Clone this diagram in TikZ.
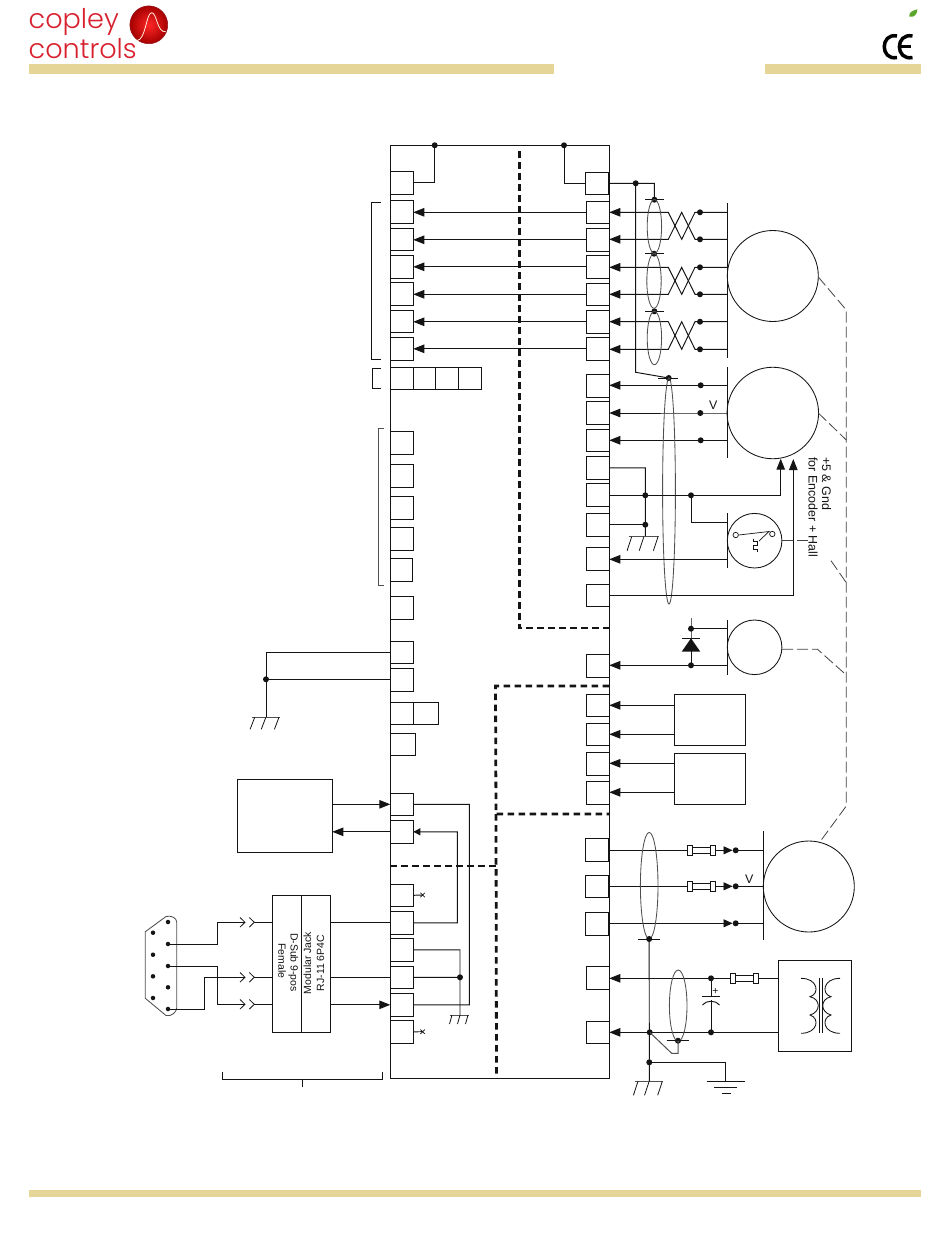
\documentclass[tikz,border=0pt]{standalone}
\usepackage{fontspec}
\setmainfont{Liberation Sans}
\newfontfamily\logofont[UprightFont=* Light]{Poppins}
\usetikzlibrary{arrows.meta,calc}
\definecolor{ink}{HTML}{141414}
\definecolor{band}{HTML}{E5D596}
\definecolor{logored}{HTML}{D8202E}
\definecolor{shield}{HTML}{505050}
\definecolor{leaf}{HTML}{5BA62A}
\tikzset{
  wire/.style={draw=ink,line width=0.97bp},
  arr/.style={wire,-{Triangle[length=11bp,width=8.5bp]}},
  sarr/.style={wire,-{Triangle[length=7bp,width=7bp]}},
  boxp/.style={draw=ink,line width=0.97bp,inner sep=0pt,outer sep=0pt,anchor=north west},
  dot/.style={circle,fill=ink,inner sep=0pt,outer sep=0pt,minimum size=6bp},
  sdot/.style={circle,fill=ink,inner sep=0pt,outer sep=0pt,minimum size=4.5bp},
  ring/.style={circle,draw=ink,line width=0.85bp,inner sep=0pt,outer sep=0pt},
  shld/.style={draw=shield,line width=0.85bp},
  heavy/.style={draw=ink,line width=2.8bp,dash pattern=on 6.5bp off 4.5bp},
  fine/.style={draw=ink!80,line width=0.8bp,dash pattern=on 11bp off 4bp},
  lab/.style={inner sep=0pt,text=ink,font=\fontsize{10.5}{12}\selectfont},
  ulab/.style={inner sep=0pt,text=ink,font=\fontsize{12.5}{14}\selectfont}
}
\newcommand{\pinbox}[5]{\node[boxp,minimum width=#4 bp,minimum height=#5 bp] (#1) at (#2,#3) {};}
\newcommand{\chassis}[4]{% x0, x1, y, drop
  \draw[shld] (#1,#3) -- (#2,#3);
  \draw[wire,line width=0.8bp] (#1+3,#3) -- ++(-4.6,#4) ($(#1,#3)!0.5!(#2,#3)+(0,0)$) -- ++(-4.6,#4) (#2-1,#3) -- ++(-4.6,#4);}
\newcommand{\fuse}[2]{% cx, cy
  \draw[wire,fill=white] (#1-9,#2-3.2) rectangle (#1+9,#2+3.2);
  \draw[wire,fill=white] (#1-14,#2-5) rectangle (#1-9,#2+5);
  \draw[wire,fill=white] (#1+9,#2-5) rectangle (#1+14,#2+5);}
\newcommand{\twistpair}[7]{% yA yB dotA dotB pinA pinB (unused)
  \node[dot] (#3) at (700,#1) {};
  \node[dot] (#4) at (700,#2) {};
  \draw[arr] (727.3,#1) -- (#3.center) -- (695,#1) -- (681.7,#2) -- (668.3,#1) -- (#5.east |- #3);
  \draw[arr] (727.3,#2) -- (#4.center) -- (695,#2) -- (681.7,#1) -- (668.3,#2) -- (#6.east |- #4);}
\newcommand{\ncmark}[2]{\draw[wire,line width=0.7bp] (#1-2.2,#2-2.2) -- (#1+2.2,#2+2.2) (#1-2.2,#2+2.2) -- (#1+2.2,#2-2.2);}
\begin{document}
\begin{tikzpicture}[x=1bp,y=-1bp]
\useasboundingbox (0,0) rectangle (950,1248);
\fill[white] (0,0) rectangle (950,1248);

% header / footer bands
\fill[band] (29,64) rectangle (554,74);
\fill[band] (765,64) rectangle (921,74);
\fill[band] (29,1190) rectangle (921,1197);

% logo
\node[inner sep=0pt,anchor=base west,text=logored,font=\logofont\fontsize{27.2}{30}\selectfont] (logoa) at (28.5,28.3) {copley};
\node[inner sep=0pt,anchor=base west,text=logored,font=\logofont\fontsize{27.2}{30}\selectfont] (logob) at (28.5,58.3) {controls};
\shade[inner color=red!85!white,outer color=red!65!black] (148.8,24.8) circle[radius=18.9bp];
\draw[draw=logored!70!black,line width=0.6bp] (148.8,24.8) circle[radius=18.9bp];
\draw[draw=white!85!orange,line width=0.8bp] (136.7,40.7) .. controls (146,40) and (146,13) .. (151.7,12.7) .. controls (157,13) and (157,33) .. (165.7,31.7);

% CE + leaf
\draw[draw=black,line width=3.5bp] (897,36) .. controls (880,32.5) and (880,61) .. (897,57.5);
\draw[draw=black,line width=3.5bp] (912.5,36) .. controls (895,32.5) and (895,61) .. (912.5,57.5);
\draw[draw=black,line width=2.8bp] (900,46.8) -- (911,46.8);
\fill[leaf] (909.3,16.7) .. controls (908.5,12) and (913,10.5) .. (917.3,9.3) .. controls (917.5,13) and (915,18) .. (909.3,16.7);

% main frame
\node[boxp,minimum width=219bp,minimum height=933bp] (frame) at (390.3,145.3) {};

% left pins
\foreach \n/\y/\h in {0/171.3/23,1/200.3/23,2/228.3/22,3/255.3/23,4/282.3/23,5/310.3/22,6/337.3/23,
  8/431.3/23,9/464.3/23,10/496.3/23,11/527.3/23,13/596.3/23,
  14/641.3/22,15/668.3/23,18/793.3/22,19/820.3/23,
  20/884.3/22,21/911.3/23,22/938.3/23,23/966.3/22,24/993.3/23,25/1020.3/23}
  {\pinbox{L\n}{390.3}{\y}{23}{\h}}
\pinbox{L12}{390.3}{558.3}{22}{23}
\pinbox{La}{390.3}{367.3}{23}{22}
\pinbox{Lb}{413.3}{367.3}{22}{22}
\pinbox{Lc}{435.3}{367.3}{23}{22}
\pinbox{Ld}{458.3}{367.3}{23}{22}
\pinbox{Le}{390.3}{702.3}{23}{22}
\pinbox{Lf}{413.3}{702.3}{25}{22}
\pinbox{Lg}{390.3}{733.3}{25}{22}

% right pins
\pinbox{R0}{585.3}{172.3}{23}{22}
\foreach \n/\y/\h in {1/201.3/22,2/228.3/23,3/255.3/23,4/283.3/22,5/310.3/23,6/337.3/23,
  7/374.3/23,8/401.3/23,9/429.3/22,10/456.3/23,11/483.3/23,12/513.3/23,13/547.3/23,14/584.3/22,
  15/654.3/23,16/694.3/22,17/723.3/22,18/752.3/23,19/781.3/23,23/966.3/23,24/1021.3/22}
  {\pinbox{R\n}{586.3}{\y}{23}{\h}}
\pinbox{R20}{585.3}{838.3}{23}{23}
\pinbox{R21}{585.3}{875.3}{23}{22}
\pinbox{R22}{585.3}{912.3}{23}{23}

% heavy dashed partitions
\draw[heavy] (519.4,151) -- (519.4,628) -- (609,628);
\draw[heavy] (609,686) -- (495.5,686) -- (496,814) -- (609,814);
\draw[heavy] (496,814) -- (496.5,1078);
\draw[heavy] (390.3,866) -- (496.2,866);

% top tie-ins
\node[dot] (topL) at (434.7,145.3) {};
\node[dot] (topR) at (564,145.3) {};
\draw[wire] (L0.east) -| (topL.center);
\draw[wire] (R0.west) -| (topR.center);

% through arrows
\foreach \n in {1,...,6}{\draw[arr] (R\n.west) -- (L\n.east |- R\n.west);}

% brackets
\draw[wire] (380.7,202) -- (371.3,202) -- (371.3,359.3) -- (380.7,359.3);
\draw[wire] (380.7,368.3) -- (372.3,368.3) -- (372.3,388.3) -- (380.7,388.3);
\draw[shld] (384,428) -- (378.7,428) -- (378.7,585) -- (384,585);
\draw[wire] (222.3,1072.3) -- (222.3,1079) -- (382.3,1079) -- (382.3,1072.3);
\draw[wire] (302.3,1079) -- (302.3,1086.7);

% motor 1, shield and twisted pairs
\node[ring,minimum size=91bp] (motorA) at (772.8,276) {};
\node[ring,minimum size=91.5bp] (motorB) at (772.8,413) {};
\node[ring,minimum size=54.6bp] (switchC) at (754.6,540.7) {};
\node[ring,minimum size=54.6bp] (thermD) at (754.6,647.3) {};
\node[ring,minimum size=91bp] (motorE) at (808.8,886.5) {};
\draw[wire] (727.3,203) -- (727.3,358);
\draw[wire] (727.3,367) -- (727.3,458);
\draw[wire] (727.3,513) -- (727.3,568);
\draw[wire] (727.3,620) -- (727.3,675);
\draw[wire] (763.3,831) -- (763.3,940);

\node[dot] (tapA) at (635.7,183.3) {};
\node[dot] (shA) at (654.4,199.7) {};
\node[dot] (shB) at (654,253.7) {};
\node[dot] (shC) at (654.4,311.3) {};
\draw[wire] (R0.east) -- (tapA.center) -- (654.4,183.3) -- (shA.center);
\draw[wire] (645,199.7) -- (664,199.7);
\draw[wire] (645,253.7) -- (664,253.7);
\draw[wire] (645,311.3) -- (664,311.3);
\twistpair{212.3}{239.3}{da}{db}{R1}{R2}{}
\twistpair{267.3}{294.3}{dc}{dd}{R3}{R4}{}
\twistpair{321.7}{349.3}{de}{df}{R5}{R6}{}
\draw[shld] (654.4,226.5) ellipse[x radius=7.2,y radius=27];
\draw[shld] (654,281) ellipse[x radius=7.2,y radius=27.3];
\draw[shld] (654.4,338) ellipse[x radius=7.2,y radius=26.7];

% motor 2 wires
\node[dot] (shD) at (668.7,378) {};
\draw[wire] (tapA.center) -- (635.7,372.3) -- (shD.center);
\draw[wire] (658,378) -- (678,378);
\node[dot] (dg) at (700.7,385.3) {};
\node[dot] (dh) at (700.3,413) {};
\node[dot] (di) at (700.7,440.3) {};
\draw[arr] (727.3,385.3) -- (dg.center) -- (R7.east |- dg);
\draw[arr] (727.3,413) -- (dh.center) -- (R8.east |- dh);
\draw[arr] (727.3,440.3) -- (di.center) -- (R9.east |- di);
\node[ulab] (vA) at (713.3,405.5) {V};
\draw[shld] (669,491) ellipse[x radius=6.4,y radius=113];

% encoder power, ground, switch
\node[dot] (gA) at (645.3,495.3) {};
\node[dot] (gB) at (645.3,524.7) {};
\node[dot] (gC) at (691,495.3) {};
\coordinate (gndA) at (645.3,536.7);
\draw[wire] (R10.east) -- (645.3,467.8) -- (gndA);
\draw[wire] (R12.east |- gB) -- (gB.center);
\draw[wire,-{Triangle[length=11bp,width=8.5bp]}] (R11.east |- gA) -- (gC.center) -- (780.7,495.3) -- (780.7,458.7);
\draw[wire] (gC.center) -- (691,522.3) -- (727.3,522.3);
\draw[arr] (727.3,559.3) -- (R13.east |- 0,559.3);
\draw[wire,-{Triangle[length=11bp,width=8.5bp]}] (R14.east |- 0,595.3) -- (793.3,595.3) -- (793.3,459);
\chassis{628.7}{659}{536.7}{14}

% switch symbol
\node[circle,draw=ink,line width=0.7bp,minimum size=5.4bp,inner sep=0pt] (swa) at (735.7,535) {};
\node[circle,draw=ink,line width=0.7bp,minimum size=5.4bp,inner sep=0pt] (swb) at (772.3,534) {};
\draw[wire,line width=0.7bp] (swa.east) -- (769,531.5) -- (759,541);
\draw[wire,line width=0.7bp] (753.3,538.5) -- (753.3,541.5) -- (757,541.5) -- (757,545) -- (753,545) -- (753,549) -- (757,549) -- (757,552);

% diode branch
\node[dot] (dj) at (691,628.7) {};
\node[dot] (dk) at (691,665.3) {};
\draw[wire] (691,618.3) -- (dj.center) -- (dk.center);
\draw[wire] (dj.center) -- (727.3,628.7);
\draw[arr] (727.3,665.3) -- (dk.center) -- (R15.east |- dk);
\fill[ink] (691,638.3) -- (700.3,651.7) -- (681.7,651.7) -- cycle;
\draw[wire] (681.7,638.3) -- (700.3,638.3);

% two driver boxes
\node[boxp,minimum width=71bp,minimum height=51bp] (boxA) at (674.3,694.3) {};
\node[boxp,minimum width=71bp,minimum height=51bp] (boxB) at (674.3,753.3) {};
\draw[arr] (boxA.west |- 0,705.3) -- (R16.east |- 0,705.3);
\draw[arr] (boxA.west |- 0,734.3) -- (R17.east |- 0,734.3);
\draw[arr] (boxB.west |- 0,763.3) -- (R18.east |- 0,763.3);
\draw[arr] (boxB.west |- 0,792.3) -- (R19.east |- 0,792.3);

% motor 3
\foreach \nm/\p/\y in {a/R20/850.3,b/R21/886.3,c/R22/923.3}{
  \node[dot] (m\nm) at (735.7,\y) {};
  \draw[wire,-{Triangle[length=9bp,width=8bp]}] (\p.east |- m\nm) -- (732.5,\y);
  \draw[wire] (m\nm.center) -- (763.3,\y);
}
\fuse{701}{850.3}
\fuse{701}{886.3}
\node[ulab] (vB) at (749.3,879) {V};
\draw[shld] (649.2,885.7) ellipse[x radius=8.8,y radius=53.3];
\node[dot] (shE) at (649.2,939) {};
\draw[wire] (638.3,939) -- (660,939);

% power section
\node[boxp,minimum width=73.4bp,minimum height=91bp] (xfmr) at (778.3,960.3) {};
\node[dot] (pa) at (711,978.3) {};
\node[dot] (pb) at (711,1032.3) {};
\node[dot] (pc) at (649.7,1032.3) {};
\node[dot] (pd) at (649.3,1062.3) {};
\node[dot] (shF) at (678,1040.7) {};
\draw[arr] (xfmr.west |- pa) -- (pa.center) -- (R23.east |- pa);
\draw[arr] (xfmr.west |- pb) -- (pb.center) -- (pc.center) -- (R24.east |- pc);
\fuse{744.5}{978.3}
\draw[wire] (pa.center) -- (711,996) (711,1000) -- (pb.center);
\draw[wire] (701.7,996) -- (720,996);
\draw[wire] (702.5,1005) .. controls (706,1000) and (716,1000) .. (719.5,1005);
\node[lab] (capplus) at (715.3,991.7) {+};
\draw[shld] (678.2,1005.7) ellipse[x radius=8.8,y radius=35.7];
\draw[wire] (666.7,1040.7) -- (689.3,1040.7);
\draw[shld,line width=1bp] (pc.center) -- (671.7,1053.3) -- (678,1053.3) -- (shF.center);
\draw[wire] (shE.center) -- (649.3,1081.3);
\draw[wire] (pd.center) -- (725.3,1062.3) -- (725.3,1081.3);
\draw[wire] (706.7,1081.3) -- (744.7,1081.3);
\draw[wire] (714,1087.3) -- (736.7,1087.3);
\draw[wire] (721.7,1093.3) -- (731,1093.3);
\chassis{635}{663.3}{1081.3}{14}

% transformer symbol
\draw[wire,line width=0.85bp] (801,978.3) .. controls (818,978.3) and (820,994) .. (810,996.7) .. controls (821,999) and (821,1012) .. (810,1015) .. controls (820,1018) and (818,1033.3) .. (801,1033.3);
\draw[wire,line width=0.85bp] (840,978.3) .. controls (823,978.3) and (821,994) .. (831,996.7) .. controls (820,999) and (820,1012) .. (831,1015) .. controls (821,1018) and (823,1033.3) .. (840,1033.3);
\draw[wire] (819,978.3) -- (819,1033.3);
\draw[wire] (822.3,978.3) -- (822.3,1033.3);

% thin dashed bundle on the right
\draw[fine] (818.3,277) -- (846.3,310) -- (846.3,806) -- (819.3,842.7);
\draw[fine] (818.3,413) -- (846.3,440);
\draw[fine] (782,540.7) -- (808,540.7);
\draw[fine] (831,560.7) -- (846.3,582.7);
\draw[fine] (782,649.3) -- (817.5,649.3) -- (846.3,675);

% rotated text
\node[ulab,rotate=-90,anchor=west] (pwrA) at (826.5,457) {+5 \& Gnd};
\node[ulab,rotate=-90,anchor=west] (pwrB) at (813,457) {for Encoder + Hall};

% ground + left side
\node[dot] (ga) at (266,679.3) {};
\draw[wire] (L14.west) -| (266,717.3);
\draw[wire] (L15.west |- ga) -- (ga.center);
\chassis{251.7}{280}{717.3}{12}

% control box
\node[boxp,minimum width=95bp,minimum height=73bp] (ctrl) at (237.3,779.3) {};
\draw[arr] (ctrl.east |- L18.west) -- (L18.west);
\draw[arr] (L19.west) -- (ctrl.east |- L19.west);
\draw[wire] (L18.east) -- (469.3,804.3) -- (469.3,1004.8) -- (L24.east);
\draw[sarr] (L21.east) -- (457.3,922.8) -- (457.3,831.8) -- (L19.east);

% NC stubs
\coordinate (nca) at (422.6,895);
\coordinate (ncb) at (422.6,1031.7);
\ncmark{422.6}{895}
\ncmark{422.6}{1031.7}
\draw[wire] (L20.east) -- (nca);
\draw[wire] (L25.east) -- (ncb);

% signal ground block
\node[dot] (sg) at (460,977.3) {};
\draw[wire] (L22.east) -- (460,949.8) -- (460,1015);
\draw[wire] (L23.east) -- (sg.center);
\draw[shld] (450,1015) -- (468.7,1015);
\draw[wire,line width=0.8bp] (452,1015) -- ++(-2.5,9) (460,1015) -- ++(-2.5,9) (468,1015) -- ++(-2.5,9);

% modular jack block
\node[boxp,minimum width=58bp,minimum height=137bp] (jack) at (272.7,895.3) {};
\draw[wire] (301.7,895.3) -- (301.7,1032.3);
\node[lab,rotate=90] (tj1) at (307.4,963) {Modular Jack};
\node[lab,rotate=90] (tj2) at (320.6,963) {RJ-11 6P4C};
\node[lab,rotate=-90] (tj3) at (293.3,962.5) {D-Sub 9-pos};
\node[lab,rotate=-90] (tj4) at (282,961) {Female};
\draw[wire] (jack.east |- L21.west) -- (L21.west);
\draw[wire] (jack.east |- L23.west) -- (L23.west);
\draw[arr] (jack.east |- L24.west) -- (L24.west);

% D-sub connector
\draw[draw=shield,line width=0.85bp] (145.3,931.7) -- (166,916.5) .. controls (171,915) and (176.7,918) .. (176.7,922) -- (176.7,1008) .. controls (176.7,1012) and (171,1017) .. (166,1015.5) -- (145.3,998.3) -- cycle;
\foreach \n/\x/\y in {1/168/922,2/168/944,3/168/966,4/168/987.3,5/168/1009,6/153/932.7,7/153/954.7,8/153/976.3,9/153/998}
  {\node[sdot] (ds\n) at (\x,\y) {};}
\foreach \nm/\y in {a/922.3,b/977.3,c/1004.3}{
  \coordinate (chv\nm) at (254.3,\y);
  \draw[wire] (chv\nm) -- (jack.west |- chv\nm);
  \draw[wire,line width=0.8bp] (240,\y-4.8) -- (245,\y) -- (240,\y+4.8);
  \draw[wire,line width=0.8bp] (249.3,\y-4.8) -- (254.3,\y) -- (249.3,\y+4.8);
}
\draw[wire] (ds2.center) -- (217.3,944) -- (217.3,922.3) -- (245,922.3);
\draw[wire] (ds5.center) -- (204,1009) -- (204,977.3) -- (245,977.3);
\draw[wire] (ds3.center) -- (217.3,966) -- (217.3,1004.3) -- (245,1004.3);
\end{tikzpicture}
\end{document}
